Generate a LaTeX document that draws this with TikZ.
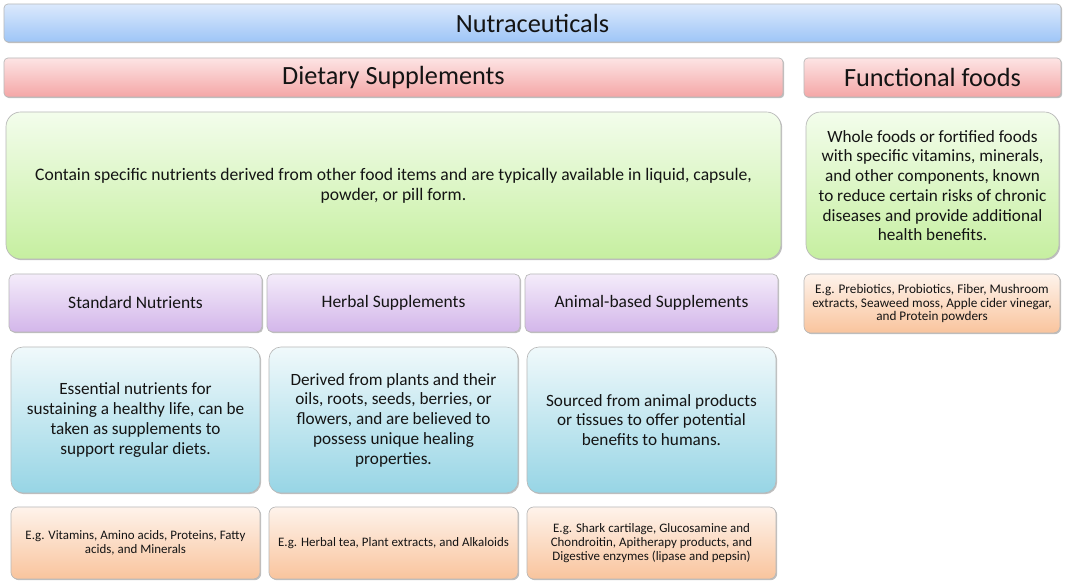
\documentclass[tikz,border=0pt]{standalone}
\usepackage{fontspec}
\setmainfont{Carlito}
\usetikzlibrary{shadows}
\definecolor{txt}{HTML}{141414}
\definecolor{blueT}{HTML}{DBE9FC}\definecolor{blueB}{HTML}{9EC5F7}
\definecolor{redT}{HTML}{FDE4E4}\definecolor{redB}{HTML}{F4A6A6}
\definecolor{greenT}{HTML}{F3FDEC}\definecolor{greenB}{HTML}{C6EFA0}
\definecolor{purT}{HTML}{F4ECFA}\definecolor{purB}{HTML}{D3B6EA}
\definecolor{cyanT}{HTML}{F0F9FB}\definecolor{cyanB}{HTML}{97D5E5}
\definecolor{oraT}{HTML}{FEF3EB}\definecolor{oraB}{HTML}{F9C49D}
\tikzset{
  base/.style={draw=black!28, line width=0.5pt, align=center, inner sep=0pt, text=txt,
    drop shadow={shadow xshift=0.9pt, shadow yshift=-0.9pt, opacity=0.35, fill=black!70}},
  bluebar/.style={base, rounded corners=3pt, top color=blueT, bottom color=blueB},
  redbar/.style={base, rounded corners=3pt, top color=redT, bottom color=redB},
  greenbox/.style={base, rounded corners=11pt, top color=greenT, bottom color=greenB},
  purplebox/.style={base, rounded corners=4pt, top color=purT, bottom color=purB},
  cyanbox/.style={base, rounded corners=9pt, top color=cyanT, bottom color=cyanB},
  orangebox/.style={base, rounded corners=5pt, top color=oraT, bottom color=oraB},
  titlefont/.style={font=\fontsize{19.7}{22}\selectfont},
  bodyfont/.style={font=\fontsize{12.9}{14.8}\selectfont},
  greenfont/.style={font=\fontsize{13.2}{15}\selectfont},
  labelfont/.style={font=\fontsize{13.1}{15}\selectfont},
  smallfont/.style={font=\fontsize{9.7}{10.4}\selectfont},
}
\begin{document}
\begin{tikzpicture}[x=0.75pt,y=-0.75pt]
\useasboundingbox[fill=white] (0,0) rectangle (1065,584);
% top
\node[bluebar, titlefont, minimum width=792.75pt, minimum height=28.5pt] (nut) at (532.5,23) {Nutraceuticals};
\node[redbar, titlefont, minimum width=584.25pt, minimum height=29.25pt] (ds) at (393.5,77.5) {Dietary Supplements};
\node[redbar, titlefont, minimum width=192.75pt, minimum height=29.25pt] (ff) at (932.5,77.5) {Functional foods};
% green
\node[greenbox, greenfont, minimum width=581.25pt, minimum height=110.25pt] (dsg) at (393.5,185.5)
  {Contain specific nutrients derived from other food items and are typically available in liquid, capsule,\\ powder, or pill form.};
\node[greenbox, bodyfont, minimum width=189.75pt, minimum height=110.25pt] (ffg) at (932.5,185.5)
  {Whole foods or fortified foods\\ with specific vitamins, minerals,\\ and other components, known\\ to reduce certain risks of chronic\\ diseases and provide additional\\ health benefits.};
% purple
\node[purplebox, labelfont, minimum width=189.75pt, minimum height=43.5pt] (sn) at (135.5,303) {Standard Nutrients};
\node[purplebox, labelfont, minimum width=189.75pt, minimum height=43.5pt] (hs) at (393.5,303) {Herbal Supplements};
\node[purplebox, labelfont, minimum width=189.75pt, minimum height=43.5pt] (ab) at (651.5,303) {Animal-based Supplements};
\node[orangebox, smallfont, font=\fontsize{9.9}{10.4}\selectfont, minimum width=192pt, minimum height=44.25pt] (ffo) at (932,303.5)
  {E.g. Prebiotics, Probiotics, Fiber, Mushroom\\ extracts, Seaweed moss, Apple cider vinegar,\\ and Protein powders};
% cyan
\node[cyanbox, bodyfont, minimum width=186.75pt, minimum height=109.5pt] (snd) at (135.5,420)
  {Essential nutrients for\\ sustaining a healthy life, can be\\ taken as supplements to\\ support regular diets.};
\node[cyanbox, bodyfont, minimum width=186.75pt, minimum height=109.5pt] (hsd) at (393.5,420)
  {Derived from plants and their\\ oils, roots, seeds, berries, or\\ flowers, and are believed to\\ possess unique healing\\ properties.};
\node[cyanbox, bodyfont, minimum width=186.75pt, minimum height=109.5pt] (abd) at (651.5,420)
  {Sourced from animal products\\ or tissues to offer potential\\ benefits to humans.};
% orange
\node[orangebox, smallfont, minimum width=186.75pt, minimum height=54pt] (sne) at (135.5,543)
  {E.g. Vitamins, Amino acids, Proteins, Fatty\\ acids, and Minerals};
\node[orangebox, smallfont, minimum width=186.75pt, minimum height=54pt] (hse) at (393.5,543)
  {E.g. Herbal tea, Plant extracts, and Alkaloids};
\node[orangebox, smallfont, minimum width=186.75pt, minimum height=54pt] (abe) at (651.5,543)
  {E.g. Shark cartilage, Glucosamine and\\ Chondroitin, Apitherapy products, and\\ Digestive enzymes (lipase and pepsin)};
\end{tikzpicture}
\end{document}
